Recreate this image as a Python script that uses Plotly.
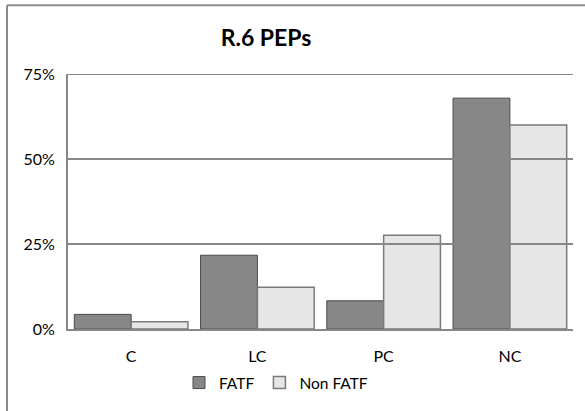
import plotly.graph_objects as go

categories = ["C", "LC", "PC", "NC"]
fatf = [4.3, 21.7, 8.3, 67.9]
non_fatf = [2.1, 12.3, 27.6, 60.0]
tick_vals = [0, 25, 50, 75]
tick_text = ["0%", "25%", "50%", "75%"]

FONT = "Lato, 'Open Sans', sans-serif"

fig = go.Figure()
fig.add_trace(go.Bar(name="FATF", x=categories, y=fatf,
                     marker=dict(color="#878787", line=dict(color="#4a4a4a", width=1))))
fig.add_trace(go.Bar(name="Non FATF", x=categories, y=non_fatf,
                     marker=dict(color="#e6e6e6", line=dict(color="#7a7a7a", width=1.5))))

# gridlines drawn above bars, as in the reference
for v in tick_vals[1:]:
    fig.add_shape(type="line", xref="paper", yref="y", x0=0, x1=1, y0=v, y1=v,
                  line=dict(color="#878787", width=2), layer="above")

# outer chart frame (clipped at right/bottom)
fig.add_shape(type="line", xref="paper", yref="paper",
              x0=(7 - 68) / 505, x1=(7 - 68) / 505, y0=(330 - 420) / 256, y1=(330 - 5) / 256,
              line=dict(color="#8c8c8c", width=2), layer="above")
fig.add_shape(type="line", xref="paper", yref="paper",
              x0=(7 - 68) / 505, x1=(600 - 68) / 505, y0=(330 - 5) / 256, y1=(330 - 5) / 256,
              line=dict(color="#8c8c8c", width=2), layer="above")

fig.update_layout(
    width=585, height=411,
    margin=dict(l=68, r=12, t=74, b=81),
    paper_bgcolor="white", plot_bgcolor="white",
    barmode="group", bargap=0.1, bargroupgap=0,
    font=dict(family=FONT, size=16, color="#000000"),
    title=dict(text="<b>R.6 PEPs</b>", x=266 / 585, xanchor="center",
               y=1 - 38 / 411, yanchor="middle",
               font=dict(family=FONT, size=23, color="#000000")),
    showlegend=True,
    legend=dict(orientation="h", x=(276 - 68) / 505, xanchor="center",
                y=(330 - 383) / 256, yanchor="middle",
                font=dict(family=FONT, size=15.5), itemwidth=30,
                bgcolor="rgba(0,0,0,0)", traceorder="normal"),
    xaxis=dict(showline=True, linecolor="#878787", linewidth=2,
               ticks="outside", ticklen=12, tickcolor="rgba(0,0,0,0)",
               showgrid=False, tickfont=dict(size=16)),
    yaxis=dict(range=[0, 75], tickvals=tick_vals, ticktext=tick_text,
               showline=True, linecolor="#878787", linewidth=2,
               showgrid=False, zeroline=False,
               ticks="outside", ticklen=8, tickcolor="rgba(0,0,0,0)",
               tickfont=dict(size=16)),
)

fig.write_html("out.html")
